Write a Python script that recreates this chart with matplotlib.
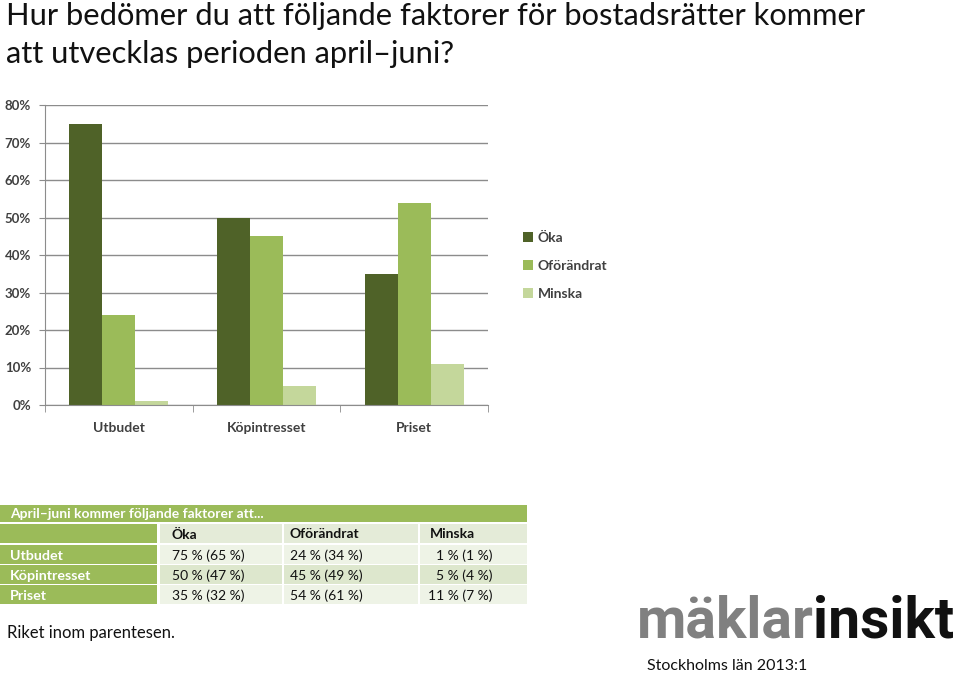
"""
Bostadsrätter - förväntningar april-juni (Stockholms län 2013:1)
"""

import matplotlib
matplotlib.use("Agg")
import matplotlib.pyplot as plt
from matplotlib.patches import Rectangle
import numpy as np

plt.rcParams["font.family"] = ["Lato", "DejaVu Sans"]

categories = ["Utbudet", "Köpintresset", "Priset"]
series = ["Öka", "Oförändrat", "Minska"]
oka = [0.75, 0.50, 0.35]
oforandrat = [0.24, 0.45, 0.54]
minska = [0.01, 0.05, 0.11]
yticks = [0.0, 0.1, 0.2, 0.3, 0.4, 0.5, 0.6, 0.7, 0.8]
ytick_labels = ["0%", "10%", "20%", "30%", "40%", "50%", "60%", "70%", "80%"]

table_title = "April–juni kommer följande faktorer att..."
table_cols = ["Öka", "Oförändrat", "Minska"]
table_rows = ["Utbudet", "Köpintresset", "Priset"]
table_cells = [
    ["75 % (65 %)", "24 % (34 %)", "1 % (1 %)"],
    ["50 % (47 %)", "45 % (49 %)", "5 % (4 %)"],
    ["35 % (32 %)", "54 % (61 %)", "11 % (7 %)"],
]

title_lines = [
    "Hur bedömer du att följande faktorer för bostadsrätter kommer",
    "att utvecklas perioden april–juni?",
]

COLORS = ["#4f6228", "#9bbb59", "#c4d79b"]
GRID = "#8c8c8c"
TXT = "#404040"

W, H = 960, 674
fig = plt.figure(figsize=(W / 100, H / 100), dpi=100)

# ---- bar chart ----
ax = fig.add_axes([45 / W, 1 - 405 / H, 443 / W, 300 / H])
x = np.arange(len(categories))
bw = 0.223
for i, (vals, name) in enumerate(zip([oka, oforandrat, minska], series)):
    ax.bar(x + (i - 1) * bw, vals, width=bw, color=COLORS[i], label=name, zorder=3)

ax.set_xlim(-0.5, 2.5)
ax.set_ylim(0, 0.8)
ax.set_yticks(yticks)
ax.set_yticklabels(ytick_labels)
ax.set_xticks(x)
ax.set_xticklabels(categories)
ax.set_xticks([-0.5, 0.5, 1.5, 2.5], minor=True)
ax.tick_params(axis="x", which="major", length=0, pad=12, labelsize=10, colors=TXT)
ax.tick_params(axis="x", which="minor", length=5, color=GRID, direction="out")
ax.tick_params(axis="y", length=4, color=GRID, pad=6, labelsize=9.5, labelcolor=TXT)
for lab in ax.get_xticklabels() + ax.get_yticklabels():
    lab.set_fontweight("bold")
ax.grid(axis="y", color=GRID, linewidth=1, zorder=0)
for s in ["top", "right"]:
    ax.spines[s].set_visible(False)
for s in ["left", "bottom"]:
    ax.spines[s].set_color(GRID)
    ax.spines[s].set_zorder(4)

leg = ax.legend(
    loc="center left",
    bbox_to_anchor=(510 / W, 1 - 266 / H),
    bbox_transform=fig.transFigure,
    frameon=False,
    handlelength=0.75,
    handleheight=0.75,
    handletextpad=0.35,
    labelspacing=1.15,
    fontsize=10,
)
for t in leg.get_texts():
    t.set_color(TXT)
    t.set_fontweight("bold")

# ---- overlay in pixel coordinates for texts and table ----
ov = fig.add_axes([0, 0, 1, 1])
ov.set_xlim(0, W)
ov.set_ylim(H, 0)
ov.axis("off")

ov.text(6, 25, title_lines[0], fontsize=22.2, va="baseline", color="#111111")
ov.text(6, 63, title_lines[1], fontsize=22.2, va="baseline", color="#111111")

# table
GREEN = "#9bbb59"
row_fill = ["#e4ebd8", "#eef3e6", "#dde7cd", "#eef3e6"]
col_span = [(0, 157), (160, 282), (284, 418), (420, 527)]
row_top = [524, 545, 565, 585]
row_h = 19

ov.add_patch(Rectangle((0, 505), 527, 17, color=GREEN, lw=0))
ov.text(10, 514, table_title, fontsize=10, color="white", fontweight="bold", va="center")

for r, top in enumerate(row_top):
    for c, (x0, x1) in enumerate(col_span):
        fill = GREEN if c == 0 else row_fill[r]
        ov.add_patch(Rectangle((x0, top), x1 - x0, row_h, color=fill, lw=0))

text_x = [172, 290, 430]
for c, name in enumerate(table_cols):
    ov.text(text_x[c], row_top[0] + row_h / 2 + 1, name, fontsize=10,
            fontweight="bold", va="center", color="#111111")
for r, name in enumerate(table_rows):
    yc = row_top[r + 1] + row_h / 2 + 1
    ov.text(10, yc, name, fontsize=10.3, fontweight="bold", va="center", color="white")
    for c, val in enumerate(table_cells[r]):
        if c == 2:
            ov.text(493, yc, val, fontsize=10, va="center", ha="right", color="#111111")
        else:
            ov.text(text_x[c], yc, val, fontsize=10, va="center", color="#111111")

ov.text(7, 638, "Riket inom parentesen.", fontsize=12, va="baseline", color="#111111")
ov.text(647, 670, "Stockholms län 2013:1", fontsize=11.5, va="baseline", color="#111111")

# logo
logo_font = ["Liberation Sans Narrow", "Roboto", "DejaVu Sans"]
t1 = ov.text(637, 638, "mäklar", fontsize=41, fontweight="bold", va="baseline",
             color="#808080", family=logo_font)
fig.canvas.draw()
bb = t1.get_window_extent()
x_end = ov.transData.inverted().transform((bb.x1, bb.y0))[0]
ov.text(x_end - 1, 638, "insikt", fontsize=41, fontweight="bold", va="baseline",
        color="#111111", family=logo_font)

fig.savefig("out.png", dpi=100)
